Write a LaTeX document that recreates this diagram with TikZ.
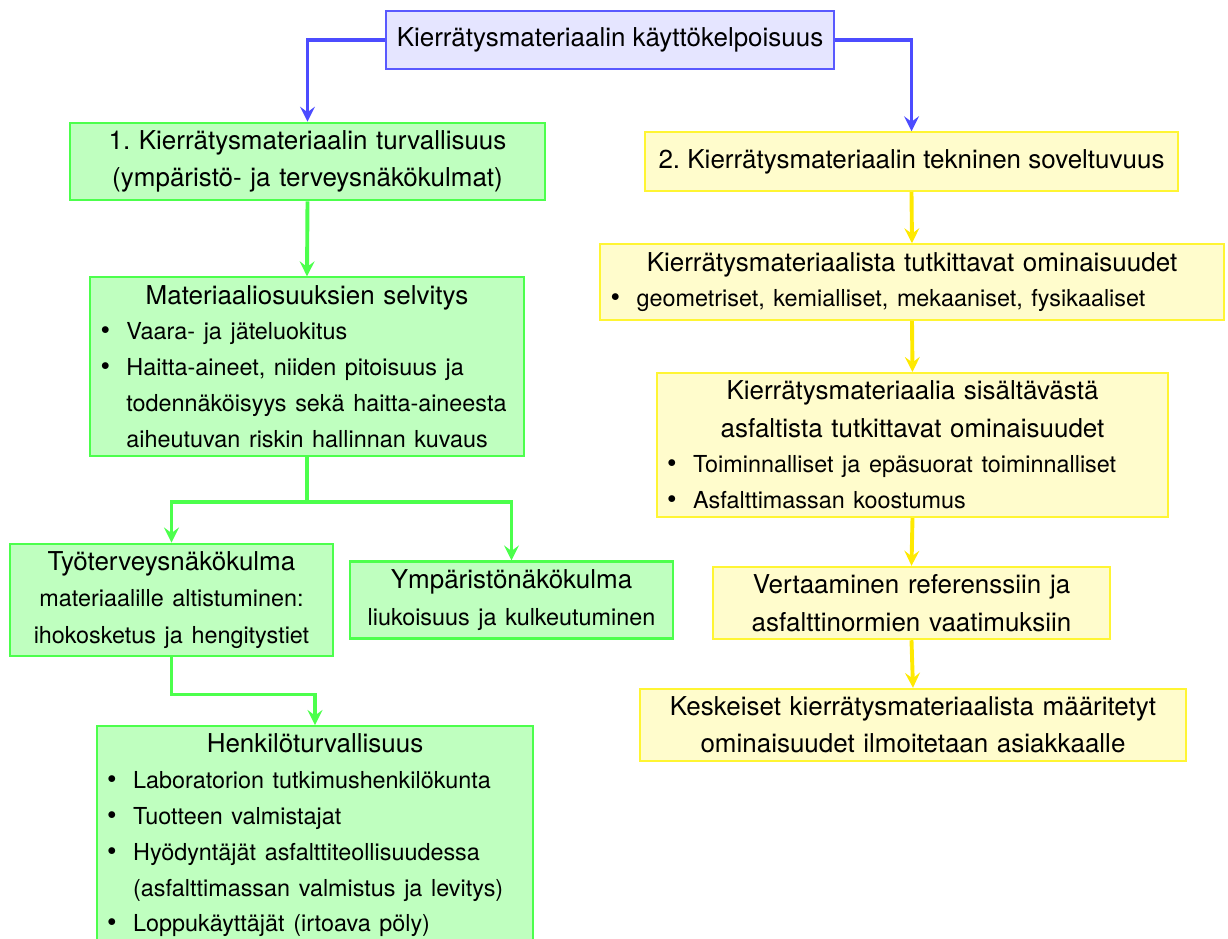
\documentclass[tikz,border=0pt]{standalone}
\usepackage{fontspec}
\setmainfont{TeX Gyre Heros}
\usepackage{enumitem}
\usetikzlibrary{positioning}
\frenchspacing

\newcommand{\bfont}{\fontsize{9}{13.8}\selectfont}
\setlist[itemize]{label={\fontsize{10.5}{10.5}\selectfont\textbullet}, leftmargin=10pt,
  labelwidth=4pt, labelsep=6pt, align=left, nosep}

\tikzset{
  box/.style={draw, line width=0.8pt, inner xsep=4pt, inner ysep=3pt,
    minimum height=22.5pt, align=center, font=\fontsize{10}{14.4}\selectfont},
  listbox/.style={box, align=left},
  bluebox/.style={box, draw=blue!65, fill=blue!10},
  greenbox/.style={draw=green!70, fill=green!25},
  yellowbox/.style={draw=yellow!80, fill=yellow!20},
  link/.style={->, >=stealth, line width=1.5pt},
  bluelink/.style={link, draw=blue!70},
  greenlink/.style={link, draw=green!70},
  yellowlink/.style={link, draw=yellow!92!orange}
}

\begin{document}
\begin{tikzpicture}[x=0.385pt, y=-0.385pt]
\useasboundingbox (0,0) rectangle (1228,939);

% top
\node[bluebox] (kaytto) at (610,40) {Kierrätysmateriaalin käyttökelpoisuus};

% 1. turvallisuus
\node[box, greenbox, text width=175pt] (turva) at (307.5,161.5)
  {1. Kierrätysmateriaalin turvallisuus\\(ympäristö- ja terveysnäkökulmat)};
\node[listbox, greenbox, text width=159pt] (mat) at (307,366.5)
  {{\centering Materiaaliosuuksien selvitys\par}\bfont
   \begin{itemize}
   \item Vaara- ja jäteluokitus
   \item Haitta-aineet, niiden pitoisuus ja\\todennäköisyys sekä haitta-aineesta\\aiheutuvan riskin hallinnan kuvaus
   \end{itemize}};
\node[box, greenbox, text width=116pt] (tyo) at (171.5,600)
  {Työterveysnäkökulma\\{\bfont materiaalille altistuminen:\\ihokosketus ja hengitystiet}};
\node[box, greenbox, text width=116pt] (ymp) at (511.5,600)
  {Ympäristönäkökulma\\{\bfont liukoisuus ja kulkeutuminen}};
\node[listbox, greenbox, text width=160pt, anchor=north] (henk) at (315,725)
  {{\centering Henkilöturvallisuus\par}\bfont
   \begin{itemize}
   \item Laboratorion tutkimushenkilökunta
   \item Tuotteen valmistajat
   \item Hyödyntäjät asfalttiteollisuudessa\\(asfalttimassan valmistus ja levitys)
   \item Loppukäyttäjät (irtoava pöly)
   \end{itemize}};

% 2. tekninen soveltuvuus
\node[box, yellowbox, minimum width=205pt] (tekn) at (911.5,161.5)
  {2. Kierrätysmateriaalin tekninen soveltuvuus};
\node[listbox, yellowbox, text width=232pt] (tutk) at (912,282)
  {{\centering Kierrätysmateriaalista tutkittavat ominaisuudet\par}\bfont
   \begin{itemize}
   \item geometriset, kemialliset, mekaaniset, fysikaaliset
   \end{itemize}};
\node[listbox, yellowbox, text width=189pt] (asf) at (912.5,445)
  {{\centering Kierrätysmateriaalia sisältävästä\\asfaltista tutkittavat ominaisuudet\par}\bfont
   \begin{itemize}
   \item Toiminnalliset ja epäsuorat toiminnalliset
   \item Asfalttimassan koostumus
   \end{itemize}};
\node[box, yellowbox, text width=145pt] (vert) at (911.5,603)
  {Vertaaminen referenssiin ja\\asfalttinormien vaatimuksiin};
\node[box, yellowbox, text width=202pt] (kesk) at (913,725)
  {Keskeiset kierrätysmateriaalista määritetyt\\ominaisuudet ilmoitetaan asiakkaalle};

% arrows
\draw[bluelink] (kaytto.west) -| (turva.north);
\draw[bluelink] (kaytto.east) -| (tekn.north);

\draw[greenlink] (turva.south) -- (mat.north);
\draw[greenlink] (mat.south) -- ++(0,45) -| (tyo.north);
\draw[greenlink] (mat.south) -- ++(0,45) -| (ymp.north);
\draw[greenlink] (tyo.south) -- ++(0,37) -| (henk.north);

\draw[yellowlink] (tekn.south) -- (tutk.north);
\draw[yellowlink] (tutk.south) -- (asf.north);
\draw[yellowlink] (asf.south) -- (vert.north);
\draw[yellowlink] (vert.south) -- (kesk.north);
\end{tikzpicture}
\end{document}
